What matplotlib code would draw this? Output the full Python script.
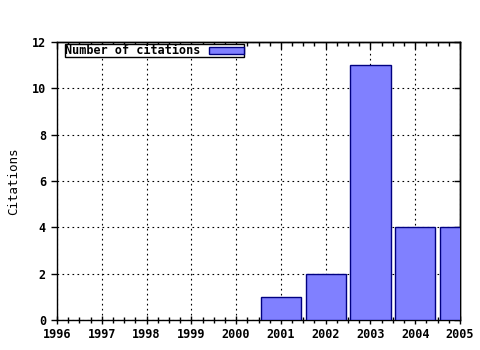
import numpy as np
import matplotlib.pyplot as plt

years = [2001, 2002, 2003, 2004, 2005]
citations = [1, 2, 11, 4, 4]
year_ticks = list(range(1996, 2006))
y_ticks = [0, 2, 4, 6, 8, 10, 12]

plt.rcParams['font.family'] = 'DejaVu Sans Mono'

fig = plt.figure(figsize=(4.8, 3.5), dpi=100)
ax = fig.add_axes([57/480, 30/350, 403/480, 278/350])

ax.bar(years, citations, width=0.9, color='#8080ff', edgecolor='#000080',
       linewidth=1.0, label='Number of citations', zorder=3)

ax.set_xlim(1996, 2005)
ax.set_ylim(0, 12)
ax.set_xticks(year_ticks)
ax.set_xticklabels([str(y) for y in year_ticks], fontweight='bold', fontsize=8.5)
ax.set_xticks(np.arange(1996, 2005.01, 0.25), minor=True)
ax.set_yticks(y_ticks)
ax.set_yticklabels([str(v) for v in y_ticks], fontweight='bold', fontsize=8.5)

ax.grid(True, which='major', color='black', linestyle=(0, (1.5, 3)), linewidth=0.8)
ax.set_axisbelow(True)

ax.tick_params(axis='x', which='major', direction='inout', length=6, width=1, pad=3)
ax.tick_params(axis='x', which='minor', direction='inout', length=5, width=1)
ax.tick_params(axis='y', which='major', direction='out', length=4, width=1, pad=4)
for s in ax.spines.values():
    s.set_linewidth(1.0)

top = ax.secondary_xaxis('top')
top.set_xticks(year_ticks)
top.set_xticks(np.arange(1996, 2005.01, 0.25), minor=True)
top.tick_params(which='major', direction='in', length=5, width=1, labeltop=False)
top.tick_params(which='minor', direction='in', length=3, width=1)
top.spines['top'].set_linewidth(1.0)

right = ax.secondary_yaxis('right')
right.set_yticks(y_ticks)
right.tick_params(direction='in', length=4, width=1, labelright=False)
right.spines['right'].set_linewidth(1.0)

ax.set_ylabel('Citations', fontsize=9, labelpad=8)

leg = ax.legend(loc='upper left', bbox_to_anchor=(6/403, 1.0), markerfirst=False,
                fancybox=False, edgecolor='black', framealpha=1, borderpad=0.0,
                handlelength=3.0, handleheight=0.5, borderaxespad=0.2,
                handletextpad=0.7, prop={'weight': 'bold', 'size': 8.5})
leg.get_frame().set_linewidth(1.0)

fig.savefig('out.png', dpi=100)
